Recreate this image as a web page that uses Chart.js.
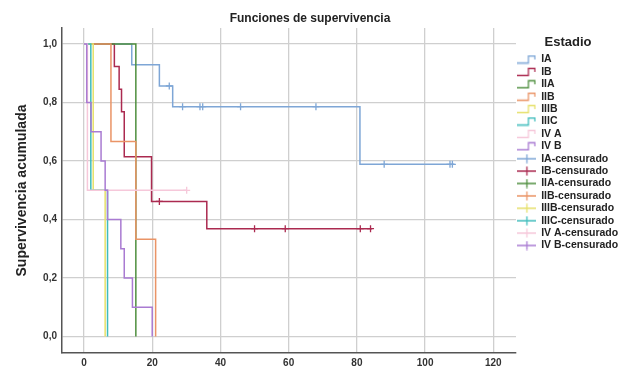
<!DOCTYPE html>
<html>
<head>
<meta charset="utf-8">
<script src="https://cdn.jsdelivr.net/npm/chart.js@4.4.1/dist/chart.umd.min.js"></script>
<style>
  body { margin: 0; background: #fff; }
  #wrap { width: 630px; height: 367px; }
</style>
</head>
<body>
<div id="wrap"><canvas id="survChart" width="630" height="367"></canvas></div>
<script>
const stages = ['IA', 'IB', 'IIA', 'IIB', 'IIIB', 'IIIC', 'IV A', 'IV B'];

// time (months) at which survival changes, and survival after the step
const timesIA = [0, 14, 22.1, 26, 80.9, 108.6];
const survIA = [1, 0.929, 0.857, 0.786, 0.589, 0.589];
const timesIB = [0, 8.9, 10.3, 11, 11.8, 19.8, 36, 84.5];
const survIB = [1, 0.923, 0.846, 0.769, 0.615, 0.462, 0.369, 0.369];
const timesIIA = [0, 15.2];
const survIIA = [1, 0];
const timesIIB = [0, 7.9, 15.2, 21];
const survIIB = [1, 0.667, 0.333, 0];
const timesIIIB = [0, 2.7, 6.2];
const survIIIB = [1, 0.5, 0];
const timesIIIC = [0, 2, 6.9];
const survIIIC = [1, 0.5, 0];
const timesIVA = [0, 1, 30.1];
const survIVA = [1, 0.5, 0.5];
const timesIVB = [0, 0.8, 2.05, 5, 6.2, 6.9, 10.8, 11.8, 14.2, 20];
const survIVB = [1, 0.8, 0.7, 0.6, 0.5, 0.4, 0.3, 0.2, 0.1, 0];

// censored cases
const censTimesIA = [25, 28.9, 34, 34.8, 45.9, 68, 88, 107.3, 108];
const censSurvIA = [0.857, 0.786, 0.786, 0.786, 0.786, 0.786, 0.589, 0.589, 0.589];
const censTimesIB = [22.1, 50, 59, 81, 84];
const censSurvIB = [0.462, 0.369, 0.369, 0.369, 0.369];
const censTimesIVA = [30.1];
const censSurvIVA = [0.5];

const xTicks = [0, 20, 40, 60, 80, 100, 120];
const yTicks = [0, 0.2, 0.4, 0.6, 0.8, 1.0];
const yTickLabels = ['0,0', '0,2', '0,4', '0,6', '0,8', '1,0'];

const colors = ['#7ea6d6', '#ab2a50', '#4f8f3f', '#ea9466', '#e6e06a', '#3fbcbc', '#f6c8da', '#a97bd2'];

const stepTimes = [timesIA, timesIB, timesIIA, timesIIB, timesIIIB, timesIIIC, timesIVA, timesIVB];
const stepSurv = [survIA, survIB, survIIA, survIIB, survIIIB, survIIIC, survIVA, survIVB];
const censTimes = [censTimesIA, censTimesIB, [], [], [], [], censTimesIVA, []];
const censSurv = [censSurvIA, censSurvIB, [], [], [], [], censSurvIVA, []];

const zip = (xs, ys) => xs.map((x, i) => ({ x: x, y: ys[i] }));

// little legend pictures: a step for the curves, a cross for the censored marks
const stepIcon = (color) => {
    const c = document.createElement('canvas');
    c.width = 19; c.height = 10;
    const g = c.getContext('2d');
    g.strokeStyle = color; g.lineWidth = 1.3;
    g.beginPath();
    g.moveTo(0, 8.5); g.lineTo(11, 8.5); g.lineTo(11, 1.5); g.lineTo(17.5, 1.5); g.lineTo(17.5, 5);
    g.stroke();
    return c;
};
const crossIcon = (color) => {
    const c = document.createElement('canvas');
    c.width = 19; c.height = 10;
    const g = c.getContext('2d');
    g.strokeStyle = color; g.lineWidth = 1.3;
    g.beginPath();
    g.moveTo(0, 5); g.lineTo(19, 5); g.moveTo(9.5, 0.5); g.lineTo(9.5, 9.5);
    g.stroke();
    return c;
};

const datasets = [];
const legendIcons = [];
stages.forEach((name, i) => {
    datasets.push({
        label: name,
        data: zip(stepTimes[i], stepSurv[i]),
        borderColor: colors[i],
        backgroundColor: colors[i],
        borderWidth: 1.5,
        stepped: true,
        pointRadius: 0,
        fill: false,
        order: 100 - i
    });
    legendIcons.push(stepIcon(colors[i]));
});
stages.forEach((name, i) => {
    datasets.push({
        label: name + '-censurado',
        data: zip(censTimes[i], censSurv[i]),
        borderColor: colors[i],
        backgroundColor: colors[i],
        showLine: false,
        pointStyle: 'cross',
        pointRadius: 3.5,
        pointBorderWidth: 1.3,
        order: 50 - i
    });
    legendIcons.push(crossIcon(colors[i]));
});

const font = 'Liberation Sans';

const config = {
    type: 'line',
    data: { datasets: datasets },
    options: {
        responsive: false,
        animation: false,
        devicePixelRatio: 1,
        layout: { padding: { left: 0, right: 10, top: 0, bottom: 0 } },
        plugins: {
            title: {
                display: true,
                text: 'Funciones de supervivencia',
                color: '#222',
                font: { family: font, size: 12, weight: 'bold' },
                padding: { top: 11, bottom: 2.6 }
            },
            legend: {
                position: 'right',
                align: 'start',
                maxWidth: 104,
                title: {
                    display: true,
                    text: 'Estadio',
                    color: '#222',
                    font: { family: font, size: 13, weight: 'bold' },
                    padding: { top: 35.5, bottom: 1.25 }
                },
                labels: {
                    usePointStyle: true,
                    pointStyleWidth: 18,
                    padding: 1.9,
                    color: '#222',
                    font: { family: font, size: 10.5, weight: 'bold' },
                    generateLabels: (chart) => {
                        const items = Chart.defaults.plugins.legend.labels.generateLabels(chart);
                        items.forEach(item => {
                            item.pointStyle = legendIcons[item.datasetIndex];
                            item.fontColor = '#222';
                        });
                        return items.sort((a, b) => a.datasetIndex - b.datasetIndex);
                    }
                }
            },
            tooltip: { enabled: false }
        },
        scales: {
            x: {
                type: 'linear',
                min: -6.45,
                max: 126.65,
                afterBuildTicks: (scale) => { scale.ticks = xTicks.map(v => ({ value: v })); },
                afterFit: (scale) => { scale.height = 14; },
                grid: { color: '#cfcfcf', lineWidth: 1.3, drawTicks: false },
                border: { color: '#555', width: 1.5 },
                ticks: {
                    padding: 4,
                    color: '#333',
                    font: { family: font, size: 10, weight: 'bold' },
                    callback: (v) => String(v)
                }
            },
            y: {
                type: 'linear',
                min: -0.056,
                max: 1.055,
                afterBuildTicks: (scale) => { scale.ticks = yTicks.map(v => ({ value: v })); },
                afterFit: (scale) => { scale.width = 62; },
                grid: { color: '#cfcfcf', lineWidth: 1.3, drawTicks: false },
                border: { color: '#555', width: 1.5 },
                title: {
                    display: true,
                    text: 'Supervivencia acumulada',
                    color: '#222',
                    font: { family: font, size: 14, weight: 'bold' },
                    padding: { top: 14, bottom: 0 }
                },
                ticks: {
                    padding: 5,
                    color: '#333',
                    font: { family: font, size: 10, weight: 'bold' },
                    callback: (v) => yTickLabels[yTicks.indexOf(v)]
                }
            }
        }
    }
};

const chart = new Chart(document.getElementById('survChart'), config);
</script>
</body>
</html>
